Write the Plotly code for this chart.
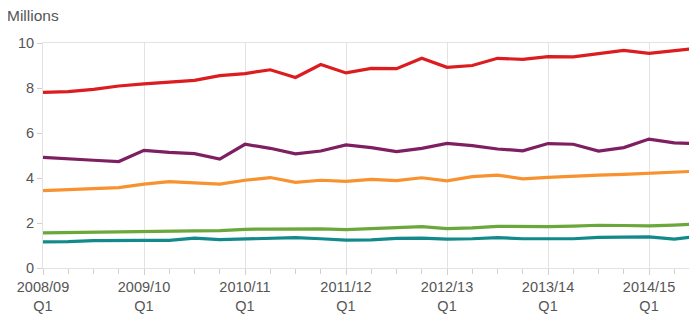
import plotly.graph_objects as go

years = ["2008/09", "2009/10", "2010/11", "2011/12", "2012/13", "2013/14", "2014/15", "2015/16"]
quarters = [f"{y} Q{q}" for y in years for q in (1, 2, 3, 4)][:27]

red = [7.81, 7.84, 7.94, 8.09, 8.18, 8.27, 8.34, 8.55, 8.64, 8.81, 8.47, 9.04, 8.67, 8.87,
       8.86, 9.32, 8.92, 9.00, 9.32, 9.27, 9.39, 9.38, 9.51, 9.67, 9.54, 9.66, 9.78]
purple = [4.92, 4.84, 4.79, 4.73, 5.23, 5.14, 5.08, 4.84, 5.50, 5.32, 5.07, 5.20, 5.47, 5.35,
          5.17, 5.32, 5.54, 5.44, 5.29, 5.21, 5.53, 5.50, 5.20, 5.35, 5.73, 5.56, 5.53]
orange = [3.44, 3.50, 3.53, 3.57, 3.73, 3.84, 3.79, 3.73, 3.90, 4.02, 3.81, 3.90, 3.85, 3.94,
          3.88, 4.01, 3.87, 4.06, 4.13, 3.96, 4.03, 4.09, 4.13, 4.16, 4.20, 4.25, 4.31]
green = [1.56, 1.58, 1.59, 1.60, 1.61, 1.63, 1.65, 1.66, 1.72, 1.73, 1.75, 1.74, 1.71, 1.76,
         1.78, 1.84, 1.75, 1.78, 1.85, 1.83, 1.84, 1.86, 1.90, 1.89, 1.87, 1.91, 1.96]
teal = [1.16, 1.17, 1.22, 1.24, 1.23, 1.23, 1.33, 1.26, 1.29, 1.31, 1.35, 1.30, 1.24, 1.25,
        1.32, 1.33, 1.28, 1.30, 1.35, 1.30, 1.29, 1.30, 1.36, 1.36, 1.38, 1.28, 1.42]

series = [
    ("Series 1", red, "#dc1c1f"),
    ("Series 2", purple, "#7e1f62"),
    ("Series 3", orange, "#f7922f"),
    ("Series 4", green, "#6aa83c"),
    ("Series 5", teal, "#128a8c"),
]

xs = list(range(len(quarters)))
tickvals = [i for i, q in enumerate(quarters) if q.endswith("Q1")]
ticktext = [quarters[i].replace(" ", "<br>") for i in tickvals]

fig = go.Figure()
for name, vals, col in series[::-1]:
    fig.add_trace(go.Scatter(x=xs, y=vals, name=name, mode="lines",
                             line=dict(color=col, width=3.2), hoverinfo="skip"))

FAM = "Liberation Sans, Arial, sans-serif"
font = dict(family=FAM, size=14.5, color="#555555")

# the page body has an 8px default margin, so the figure is sized/offset for it
fig.update_layout(
    width=689, height=308,
    margin=dict(l=35, r=0, t=35, b=48, autoexpand=False),
    paper_bgcolor="white", plot_bgcolor="white",
    showlegend=False,
    font=font,
    xaxis=dict(range=[0, 25.9], tickvals=tickvals, ticktext=ticktext, automargin=False,
               showgrid=True, gridcolor="#e3e3e3", gridwidth=1,
               showline=True, linecolor="#e3e3e3", linewidth=1, mirror=True,
               ticks="outside", ticklen=6, tickcolor="#d0d0d0",
               minor=dict(dtick=1, tick0=0, ticks="outside", ticklen=5, tickcolor="#d0d0d0", showgrid=False),
               zeroline=False, tickfont=font),
    yaxis=dict(range=[0, 10], tickvals=[0, 2, 4, 6, 8, 10], automargin=False,
               showgrid=False, showline=True, linecolor="#e3e3e3", linewidth=1,
               ticks="outside", ticklen=5, tickcolor="#d0d0d0",
               zeroline=False, tickfont=font),
    annotations=[dict(text="Millions", xref="paper", yref="paper", x=-0.058, y=1.0,
                      xanchor="left", yanchor="middle", yshift=28, showarrow=False,
                      font=dict(family=FAM, size=15.5, color="#555555"))],
)

fig.write_html("out.html")
